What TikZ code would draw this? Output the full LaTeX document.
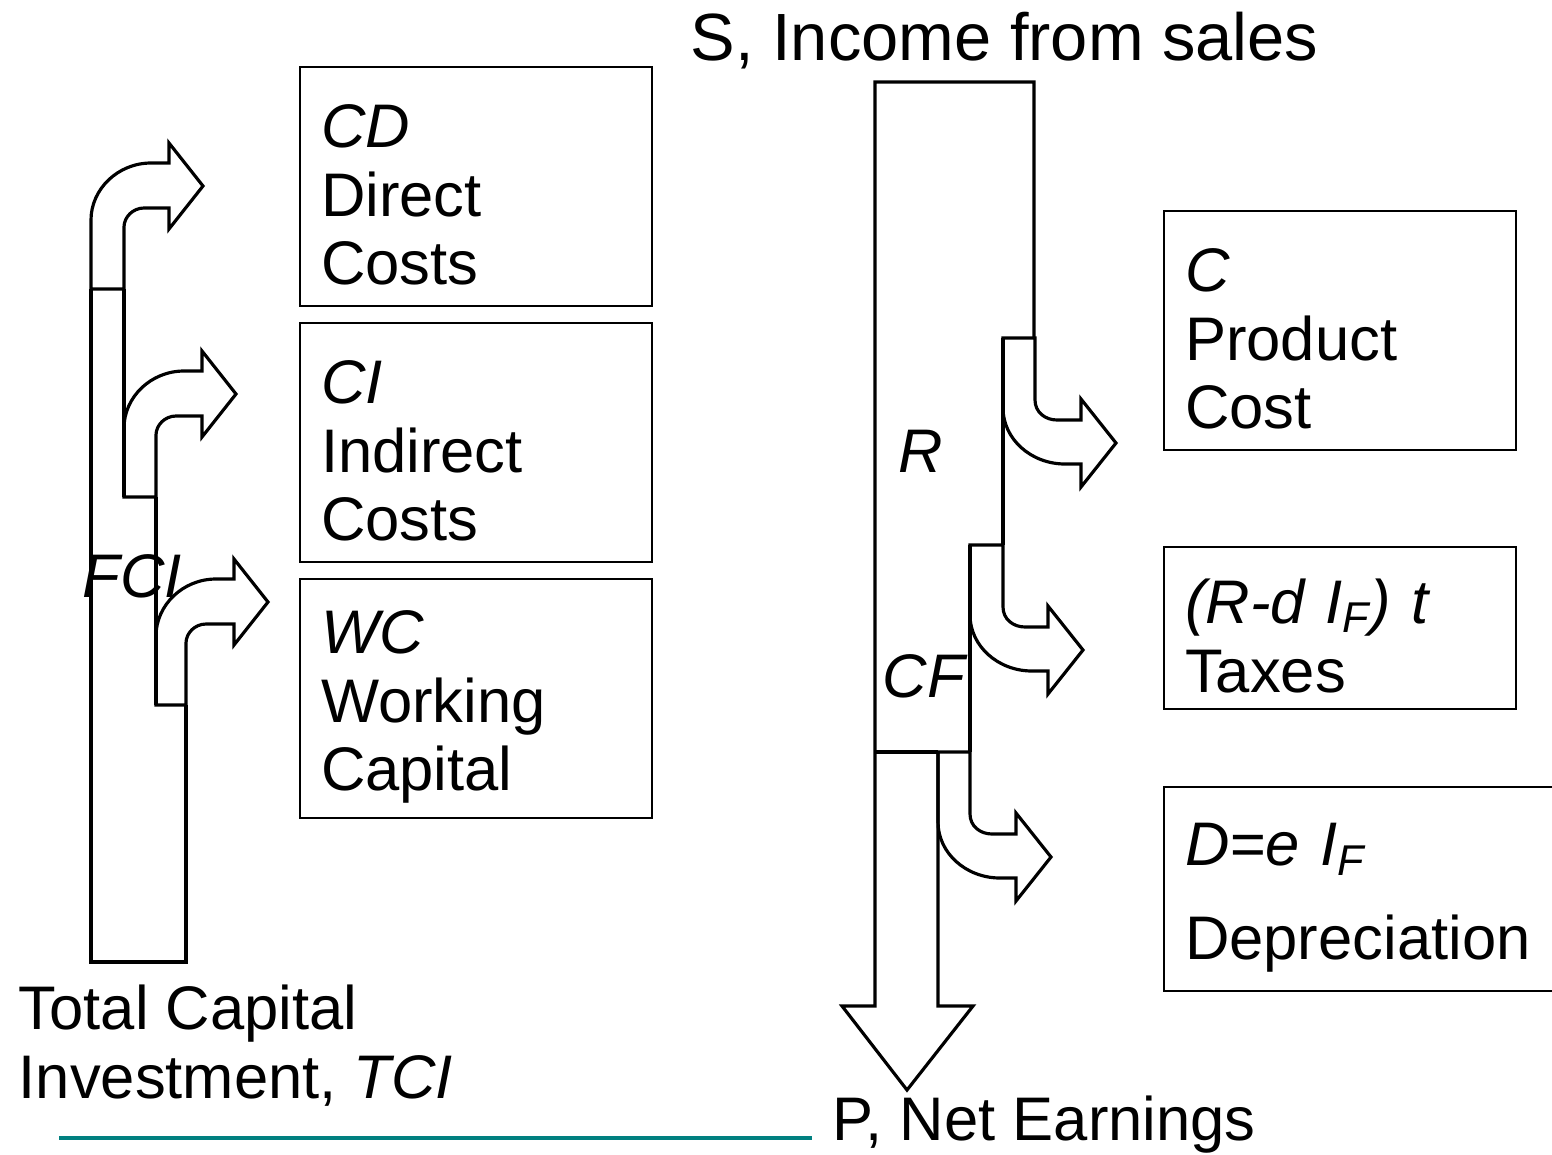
\documentclass[tikz,border=0pt]{standalone}
\usepackage{fontspec}
\setmainfont{Liberation Sans}
\usepackage{xcolor}
\usepackage{tikz}
\usetikzlibrary{positioning}

\newcommand{\flowfont}{\fontsize{17.5pt}{19.5pt}\selectfont}

\begin{document}
\begin{tikzpicture}[
    x=0.01cm, y=-0.01cm,
    costbox/.style={rectangle, draw, line width=0.6pt, anchor=north west, minimum width=3.52cm, minimum height=2.39cm, text width=3.1cm, inner xsep=0.21cm, align=left, font=\flowfont, execute at begin node={\rule{0pt}{0.6cm}}},
    flow/.style={draw, line width=0.9pt},
    label/.style={anchor=base west, inner sep=0pt, font=\flowfont}
]
\useasboundingbox (0,0) rectangle (1552,1154);

% Titles
\node[label, font=\fontsize{19pt}{20pt}\selectfont] (sales) at (690,60) {S, Income from sales};
\node[label] (earnings) at (832,1140) {P, Net Earnings};
\node[label, align=left] (tci) at (18,1098) {Total Capital\\Investment, \textit{TCI}};

% Cost boxes
\node[costbox] (cd) at (299,66) {\textit{CD}\\Direct\\Costs};
\node[costbox] (ci) at (299,322) {\textit{CI}\\Indirect\\Costs};
\node[costbox] (wc) at (299,578) {\textit{WC}\\Working\\Capital};
\node[costbox] (pc) at (1163,210) {\textit{C}\\Product\\Cost};
\node[costbox, minimum height=1.62cm] (tax) at (1163,546) {\textit{(R-d I\textsubscript{F}) t}\\Taxes};
\node[costbox, minimum width=4.12cm, text width=3.7cm, minimum height=2.04cm] (dep) at (1163,786) {\textit{D=e I\textsubscript{F}}\\[0.25cm]Depreciation};

% Investment column
\draw[flow] (91,289) -- (91,962) -- (186,962) -- (186,705);
\draw[flow] (124,289) -- (124,497);
\draw[flow] (156,497) -- (156,705);

\begin{scope}[shift={(91,289)}]
\draw[flow] (0,0) -- (0,-69) .. controls (0,-100) and (27,-126) .. (60,-126) -- (78,-126) -- (78,-146) -- (112,-103) -- (78,-60) -- (78,-81) -- (53,-81) .. controls (42,-81) and (33,-72) .. (33,-62) -- (33,0) -- cycle;
\end{scope}
\begin{scope}[shift={(124,497)}]
\draw[flow] (0,0) -- (0,-69) .. controls (0,-100) and (27,-126) .. (60,-126) -- (78,-126) -- (78,-146) -- (112,-103) -- (78,-60) -- (78,-81) -- (52,-81) .. controls (41,-81) and (32,-72) .. (32,-62) -- (32,0) -- cycle;
\end{scope}
\begin{scope}[shift={(156,705)}]
\draw[flow] (0,0) -- (0,-69) .. controls (0,-100) and (27,-126) .. (60,-126) -- (78,-126) -- (78,-146) -- (112,-103) -- (78,-60) -- (78,-81) -- (50,-81) .. controls (39,-81) and (30,-72) .. (30,-62) -- (30,0) -- cycle;
\end{scope}

\node[label, font=\flowfont\itshape] (fci) at (82,597) {FCI};

% Sales column
\draw[flow] (1034,338) -- (1034,82) -- (875,82) -- (875,1006) -- (842,1006) -- (907,1090) -- (973,1006) -- (938,1006) -- (938,752);
\draw[flow] (875,752) -- (938,752);
\draw[flow] (1003,338) -- (1003,545);
\draw[flow] (970,545) -- (970,752);

\begin{scope}[shift={(1003,338)}]
\draw[flow] (0,0) -- (0,70) .. controls (0,101) and (28,126) .. (62,126) -- (78,126) -- (78,149) -- (113,105) -- (78,61) -- (78,82) -- (54,82) .. controls (42,82) and (32,74) .. (32,62) -- (32,0) -- cycle;
\end{scope}
\begin{scope}[shift={(970,545)}]
\draw[flow] (0,0) -- (0,70) .. controls (0,101) and (28,126) .. (62,126) -- (78,126) -- (78,149) -- (113,105) -- (78,61) -- (78,82) -- (55,82) .. controls (43,82) and (33,74) .. (33,62) -- (33,0) -- cycle;
\end{scope}
\begin{scope}[shift={(938,752)}]
\draw[flow] (0,0) -- (0,70) .. controls (0,101) and (28,126) .. (62,126) -- (78,126) -- (78,149) -- (113,105) -- (78,61) -- (78,82) -- (54,82) .. controls (42,82) and (32,74) .. (32,62) -- (32,0) -- cycle;
\end{scope}

\node[label, font=\flowfont\itshape] (r) at (898,472) {R};
\node[label, font=\flowfont\itshape] (cf) at (882,697) {CF};

% Rule
\draw[teal, line width=1.4pt] (59,1138) -- (812,1138);

\end{tikzpicture}
\end{document}
